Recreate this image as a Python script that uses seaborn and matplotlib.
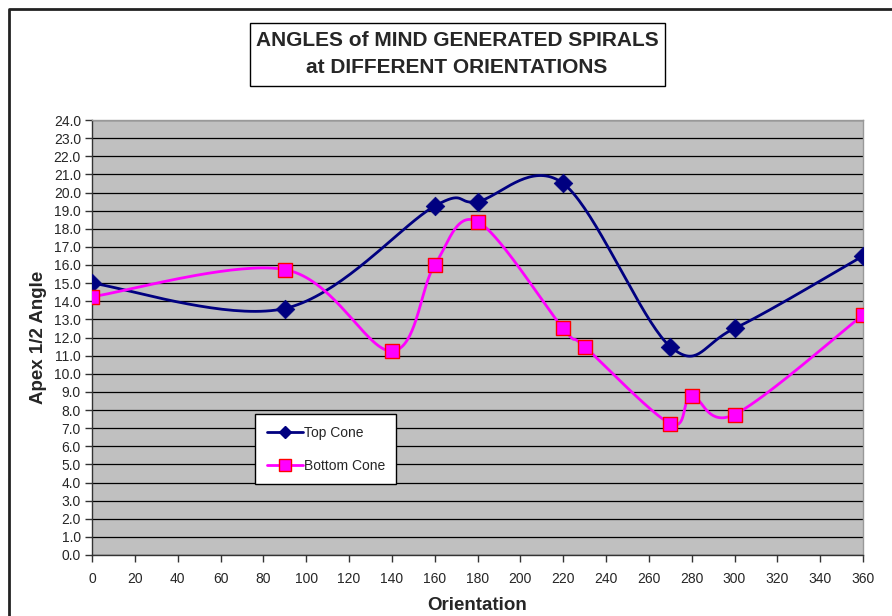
import numpy as np
import pandas as pd
import seaborn as sns
import matplotlib.pyplot as plt
from matplotlib.lines import Line2D
from matplotlib.patches import Rectangle

# values
top_x = [0, 90, 160, 180, 220, 270, 300, 360]
top_y = [15.0, 13.6, 19.25, 19.5, 20.5, 11.5, 12.5, 16.5]
bottom_x = [0, 90, 140, 160, 180, 220, 230, 270, 280, 300, 360]
bottom_y = [14.25, 15.75, 11.25, 16.0, 18.4, 12.5, 11.5, 7.25, 8.75, 7.75, 13.25]
x_ticks = list(range(0, 361, 20))
y_ticks = [i * 1.0 for i in range(0, 25)]


def smooth(xs, ys, n=40):
    # Excel-style smoothed line: cubic bezier between points,
    # control points taken from the neighbours (catmull-rom)
    p = np.column_stack([xs, ys]).astype(float)
    pts = []
    for i in range(len(p) - 1):
        p0 = p[i - 1] if i > 0 else p[i]
        p1 = p[i]
        p2 = p[i + 1]
        p3 = p[i + 2] if i + 2 < len(p) else p[i + 1]
        c1 = p1 + (p2 - p0) / 6
        c2 = p2 - (p3 - p1) / 6
        t = np.linspace(0, 1, n)[:, None]
        seg = ((1 - t) ** 3) * p1 + 3 * ((1 - t) ** 2) * t * c1 + 3 * (1 - t) * t ** 2 * c2 + t ** 3 * p2
        pts.append(seg if i == 0 else seg[1:])
    pts = np.vstack(pts)
    return pd.DataFrame({'x': pts[:, 0], 'y': pts[:, 1]})


sns.set_style('white')
plt.rcParams['font.family'] = ['Liberation Sans', 'DejaVu Sans']

fig = plt.figure(figsize=(8.92, 6.16), dpi=100)
ax = fig.add_axes([92 / 892, 61 / 616, 771 / 892, 435 / 616])
ax.set_facecolor('#C0C0C0')

navy = '#000080'
pink = '#FF00FF'

top_curve = smooth(top_x, top_y)
bottom_curve = smooth(bottom_x, bottom_y)

sns.lineplot(data=top_curve, x='x', y='y', sort=False, estimator=None, color=navy, lw=2, ax=ax, zorder=3)
sns.lineplot(data=bottom_curve, x='x', y='y', sort=False, estimator=None, color=pink, lw=2, ax=ax, zorder=3)
sns.scatterplot(x=top_x, y=top_y, marker='D', s=90, color=navy, edgecolor=navy, linewidth=0.5, ax=ax, zorder=4)
sns.scatterplot(x=bottom_x, y=bottom_y, marker='s', s=110, color=pink, edgecolor='red', linewidth=1, ax=ax, zorder=4)

ax.set_xlim(0, 360)
ax.set_ylim(0, 24)
ax.set_xticks(x_ticks)
ax.set_yticks(y_ticks)
ax.set_yticklabels([f'{v:.1f}' for v in y_ticks])
ax.yaxis.grid(True, color='black', lw=0.9)
ax.xaxis.grid(False)
ax.set_axisbelow(True)
ax.tick_params(axis='both', direction='out', length=5, width=1, color='#333333', labelsize=10, pad=3, left=True, bottom=True)
ax.tick_params(axis='x', pad=7)

for side in ['top', 'right']:
    ax.spines[side].set_color('#999999')
    ax.spines[side].set_linewidth(1)
for side in ['left', 'bottom']:
    ax.spines[side].set_color('#333333')
    ax.spines[side].set_linewidth(1)

ax.set_xlabel('Orientation', fontsize=13.5, fontweight='bold', labelpad=8)
ax.set_ylabel('Apex 1/2 Angle', fontsize=13.5, fontweight='bold', labelpad=5)

handles = [
    Line2D([], [], color=navy, lw=2, marker='D', ms=6, markeredgecolor=navy),
    Line2D([], [], color=pink, lw=2, marker='s', ms=8, markerfacecolor=pink, markeredgecolor='red'),
]
leg = ax.legend(handles, ['Top Cone', 'Bottom Cone'], loc='lower left',
                bbox_to_anchor=(0.212, 0.163), fontsize=10, frameon=True, fancybox=False,
                edgecolor='black', framealpha=1, labelspacing=1.4, handlelength=2.6,
                handletextpad=0.1, borderpad=0.8, borderaxespad=0)
leg.get_frame().set_linewidth(1)

# title box
fig.patches.append(Rectangle((250 / 892, 1 - 86 / 616), 415 / 892, 63 / 616,
                             transform=fig.transFigure, facecolor='white', edgecolor='black', lw=1))
fig.text(457 / 892, 1 - 54 / 616, 'ANGLES of MIND GENERATED SPIRALS\nat DIFFERENT ORIENTATIONS',
         ha='center', va='center', fontsize=15, fontweight='bold', linespacing=1.5)

# outer chart border (left and top edges)
fig.lines.append(Line2D([9 / 892, 9 / 892, 1], [0, 1 - 9 / 616, 1 - 9 / 616],
                        transform=fig.transFigure, color='#222222', lw=2))

fig.savefig('out.png', dpi=100)
